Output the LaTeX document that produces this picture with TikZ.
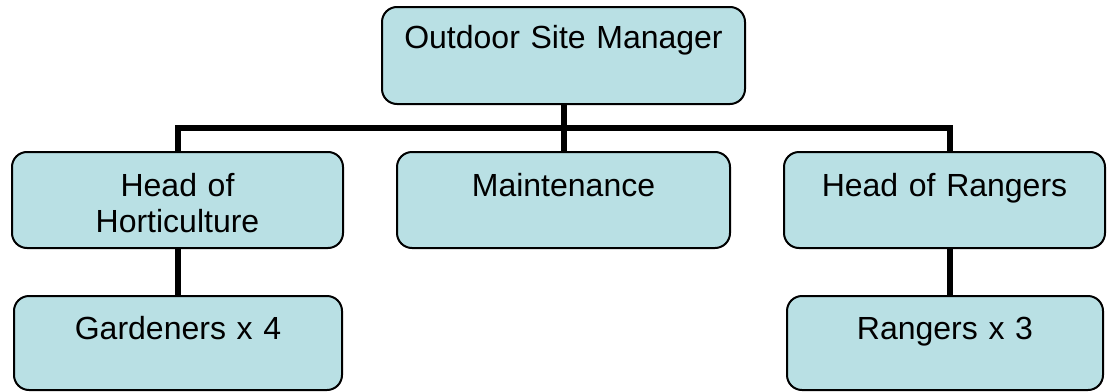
\documentclass[tikz,border=0pt]{standalone}
\usepackage{fontspec}
\setmainfont{Liberation Sans}
\usepackage{tikz}
\usetikzlibrary{positioning}
\definecolor{unitfill}{RGB}{185,224,228}
\tikzset{
  % --- organisation boxes ----------------------------------------------------
  unit/.style={rectangle,rounded corners=7.5pt,draw=black,line width=1pt,
               fill=unitfill,inner xsep=2pt,inner ysep=0pt,text width=140pt,
               align=center,font=\fontsize{16}{18}\selectfont,
               text height=22pt,text depth=26pt},
  unittop/.style={unit,text width=170pt,text height=20.5pt,text depth=28pt},
  unitlow/.style={unit,text height=21.5pt,text depth=25.5pt},
  % --- reporting lines -------------------------------------------------------
  link/.style={line width=3pt,black},
}
\begin{document}
\begin{tikzpicture}[x=0.5pt, y=-0.5pt]
  \useasboundingbox (0,0) rectangle (1107,391);

  \node[unittop,minimum width=181.5pt] (osm) at (563.5,55.5) {Outdoor Site Manager};

  \node[unit,minimum width=165.5pt] (hoh) at (177.5,200) {Head of\\Horticulture};
  \node[unit,minimum width=166.5pt] (mnt) at (563.5,200) {Maintenance};
  \node[unit,minimum width=160.5pt] (hor) at (944.5,200) {Head of Rangers};

  \node[unitlow,minimum width=164pt] (gar) at (178,343) {Gardeners x 4};
  \node[unitlow,minimum width=158pt] (rng) at (945,343) {Rangers x 3};

  % bus under the manager
  \coordinate (busl) at (178,128);
  \coordinate (busr) at (950,128);
  \draw[link] (osm) -- (osm |- busl);
  \draw[link] (busl |- hoh.north) -- (busl) -- (busr) -- (busr |- hor.north);
  \draw[link] (osm |- busl) -- (mnt);

  % teams
  \draw[link] (busl |- hoh.south) -- (busl |- gar.north);
  \draw[link] (busr |- hor.south) -- (busr |- rng.north);
\end{tikzpicture}
\end{document}
